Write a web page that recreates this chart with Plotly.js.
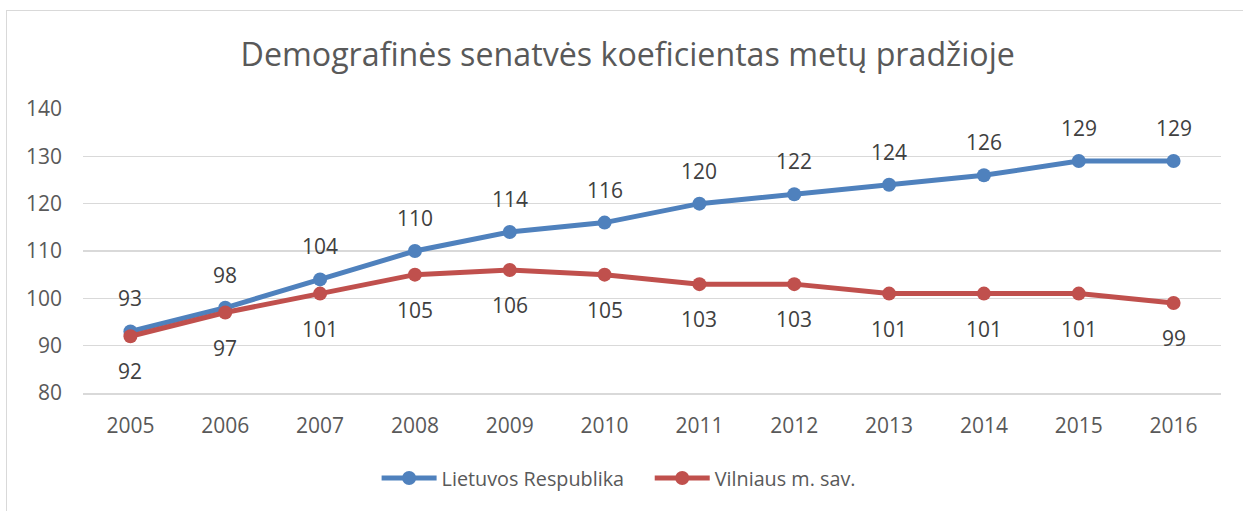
<!DOCTYPE html>
<html>
<head>
<meta charset="utf-8">
<script src="https://cdn.plot.ly/plotly-3.0.1.min.js"></script>
<style>
html,body{margin:0;padding:0;background:#fff;}
#frame{position:absolute;left:6px;top:10px;width:1300px;height:600px;border-top:1px solid #d9d9d9;border-left:1px solid #d9d9d9;pointer-events:none;}
#chart{width:1243px;height:511px;}
</style>
</head>
<body>
<div id="chart"></div>
<div id="frame"></div>
<script>
const years = ["2005","2006","2007","2008","2009","2010","2011","2012","2013","2014","2015","2016"];
const lietuva = [93,98,104,110,114,116,120,122,124,126,129,129];
const vilnius = [92,97,101,105,106,105,103,103,101,101,101,99];
const seriesNames = ["Lietuvos Respublika","Vilniaus m. sav."];
const colors = ["#4F81BD","#C0504D"];
const FONT = "Open Sans, Liberation Sans, sans-serif";

function trace(y, name, color, legend){
  return {x: years, y: y, name: name, type: "scatter", mode: "lines+markers",
    line: {color: color, width: 5}, marker: {color: color, size: 14},
    hoverinfo: "skip", legend: legend};
}
const annotations = [];
years.forEach((yr,i)=>{
  annotations.push({x: i, y: lietuva[i], xref:"x", yref:"y", text: String(lietuva[i]),
    showarrow:false, yshift: 33, font:{family:FONT, size:21, color:"#404040"}});
  annotations.push({x: i, y: vilnius[i], xref:"x", yref:"y", text: String(vilnius[i]),
    showarrow:false, yshift: -35, font:{family:FONT, size:21, color:"#404040"}});
});

const legendBase = {orientation:"h", xanchor:"left", y:-0.30, yanchor:"middle",
  font:{family:FONT, size:19.8, color:"#595959"}, itemwidth: 55, bgcolor:"rgba(0,0,0,0)"};

const layout = {
  width: 1243, height: 511,
  margin: {l:83, r:22, t:109, b:118},
  paper_bgcolor: "#fff", plot_bgcolor: "#fff",
  font: {family: FONT, color: "#595959", size: 21},
  title: {text: "Demografinės senatvės koeficientas metų pradžioje",
    font: {family: FONT, size: 32.2, color: "#595959"},
    x: 0.505, xanchor: "center", y: 0.892, yanchor: "middle"},
  xaxis: {type:"category", range:[-0.5, 11.5], showgrid:false, zeroline:false,
    showline:true, linecolor:"#d9d9d9", linewidth:1.5, ticks:"",
    tickfont:{family:FONT, size:21, color:"#595959"}, ticklabelstandoff: 13},
  yaxis: {range:[80,140], dtick:10, tick0:80, showgrid:true, gridcolor:"#d9d9d9", gridwidth:1.5,
    zeroline:false, showline:false, ticks:"",
    tickfont:{family:FONT, size:21, color:"#595959"}, ticklabelstandoff: 20},
  showlegend: true,
  legend: Object.assign({}, legendBase, {x: 0.258}),
  legend2: Object.assign({}, legendBase, {x: 0.498}),
  annotations: annotations
};

Plotly.newPlot("chart", [trace(lietuva, seriesNames[0], colors[0], "legend"), trace(vilnius, seriesNames[1], colors[1], "legend2")], layout, {displayModeBar:false, staticPlot:true});
</script>
</body>
</html>
